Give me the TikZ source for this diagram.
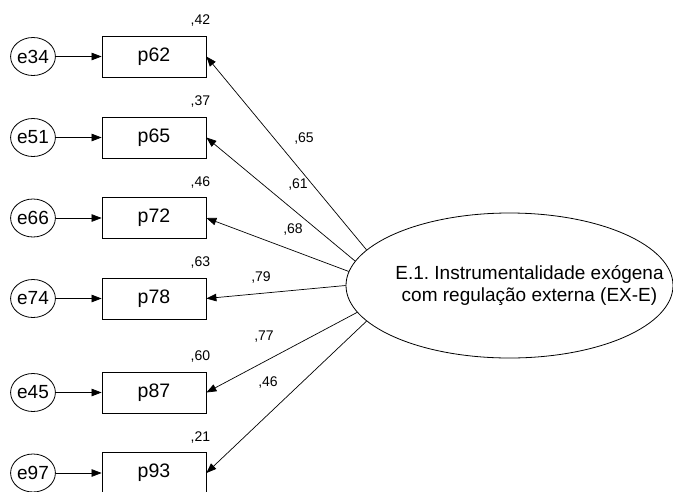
\documentclass[tikz,border=0pt]{standalone}
\usepackage{fontspec}
\setmainfont{Liberation Sans}
\frenchspacing
\usetikzlibrary{arrows.meta,shapes.geometric}
\begin{document}
\begin{tikzpicture}[x=1pt,y=-1pt,
  obs/.style={draw,line width=0.8pt,minimum width=104pt,minimum height=41pt,inner sep=0pt,
    font=\fontsize{19.5}{22}\selectfont},
  err/.style={draw,ellipse,line width=0.8pt,minimum width=44pt,minimum height=38pt,inner sep=0pt,
    font=\fontsize{19}{22}\selectfont},
  lat/.style={draw,ellipse,line width=0.8pt,minimum width=327pt,minimum height=145pt,inner sep=0pt},
  lattxt/.style={align=center,inner sep=0pt,font=\fontsize{19}{22}\selectfont},
  arr/.style={-{Triangle[length=10pt,width=7.5pt]},line width=0.7pt},
  coef/.style={inner sep=0pt,font=\fontsize{14}{16}\selectfont},
  r2/.style={coef,anchor=base east}]
\useasboundingbox (0,0) rectangle (673,491);

% latent factor
\node[lat] (F) at (509.5,285.5) {};
\node[lattxt] (Ftxt) at (529.5,286) {E.1. Instrumentalidade exógena\\com regulação externa (EX-E)};

% observed items and their error terms
\foreach \it/\er/\y in {p62/e34/56.5, p65/e51/137.5, p72/e66/218, p78/e74/298.5, p87/e45/392.5, p93/e97/473}{
  \node[obs] (\it) at (154,\y) {\it};
  \node[err] (\er) at (33,\y) {\er};
  \draw[arr] (\er) -- (\it);
}

% squared multiple correlations
\node[r2] (r62) at ([xshift=4pt,yshift=11pt]p62.north east) {,42};
\node[r2] (r65) at ([xshift=4pt,yshift=11pt]p65.north east) {,37};
\node[r2] (r72) at ([xshift=4pt,yshift=11pt]p72.north east) {,46};
\node[r2] (r78) at ([xshift=4pt,yshift=11pt]p78.north east) {,63};
\node[r2] (r87) at ([xshift=4pt,yshift=11pt]p87.north east) {,60};
\node[r2] (r93) at ([xshift=4pt,yshift=11pt]p93.north east) {,21};

% factor loadings
\draw[arr] (F.166.5) -- (p62.east);
\draw[arr] (F.171.3) -- (p65.east);
\draw[arr] (F.175.6) -- (p72.east);
\draw[arr] (F.180.9) -- (p78.east);
\draw[arr] (F.190.8) -- (p87.east);
\draw[arr] (F.194.8) -- (p93.east);

\node[coef] (l62) at (304,139) {,65};
\node[coef] (l65) at (298,185) {,61};
\node[coef] (l72) at (293,230) {,68};
\node[coef] (l78) at (261,277.5) {,79};
\node[coef] (l87) at (264,337) {,77};
\node[coef] (l93) at (268,383) {,46};
\end{tikzpicture}
\end{document}
